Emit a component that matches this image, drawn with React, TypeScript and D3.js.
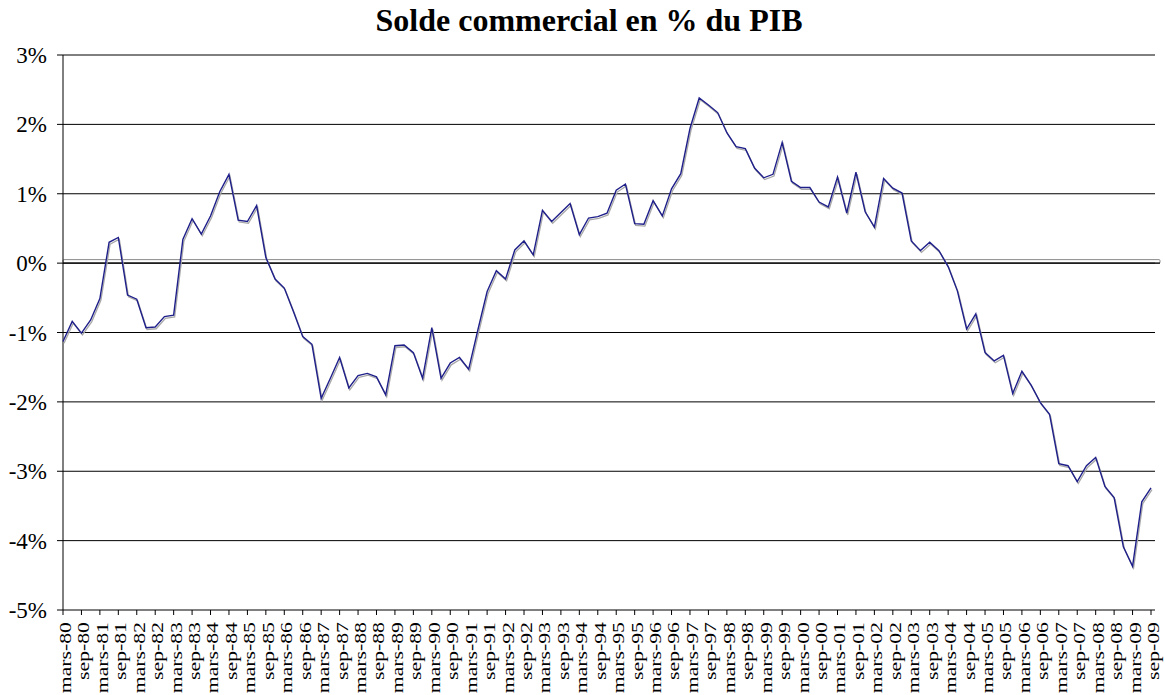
import React from "react";
import * as d3 from "d3";

const title = "Solde commercial en % du PIB";
const years = ["80","81","82","83","84","85","86","87","88","89","90","91","92","93","94","95","96","97","98","99","00","01","02","03","04","05","06","07","08","09"];
const tickLabels: string[] = years.flatMap((y) => ["mars-" + y, "sep-" + y]);
const yTicks = [3, 2, 1, 0, -1, -2, -3, -4, -5];
// quarterly values (% of GDP), Q1 1980 .. Q3 2009
const values = [
  -1.13, -0.84, -1.01, -0.82, -0.51, 0.30, 0.37, -0.46, -0.52, -0.93,
  -0.92, -0.77, -0.75, 0.34, 0.64, 0.42, 0.68, 1.03, 1.28, 0.62,
  0.60, 0.83, 0.08, -0.23, -0.36, -0.70, -1.06, -1.17, -1.95, -1.66,
  -1.36, -1.80, -1.62, -1.59, -1.64, -1.90, -1.19, -1.18, -1.29, -1.66,
  -0.93, -1.66, -1.44, -1.36, -1.53, -0.96, -0.41, -0.11, -0.23, 0.19,
  0.32, 0.12, 0.76, 0.60, 0.73, 0.86, 0.41, 0.65, 0.67, 0.72,
  1.05, 1.14, 0.57, 0.56, 0.90, 0.68, 1.07, 1.29, 1.94, 2.38,
  2.28, 2.17, 1.88, 1.68, 1.65, 1.37, 1.23, 1.28, 1.74, 1.18,
  1.09, 1.09, 0.88, 0.81, 1.24, 0.72, 1.31, 0.74, 0.52, 1.22,
  1.08, 1.01, 0.32, 0.18, 0.30, 0.18, -0.05, -0.40, -0.95, -0.73,
  -1.29, -1.41, -1.33, -1.88, -1.56, -1.76, -2.01, -2.18, -2.89, -2.92,
  -3.15, -2.92, -2.80, -3.22, -3.38, -4.09, -4.37, -3.44, -3.24,
];

const W = 1165;
const H = 695;
const left = 63;
const right = 1151;
const gridRight = 1155;
const top = 55;
const bottom = 610;

export default function App() {
  const x = d3.scaleLinear().domain([0, values.length - 1]).range([left, right]);
  const y = d3.scaleLinear().domain([-5, 3]).range([bottom, top]);
  const line = d3
    .line<number>()
    .x((_, i) => x(i))
    .y((d) => y(d));
  const path = line(values) || "";
  const serif = "'Liberation Serif', 'Times New Roman', 'DejaVu Serif', serif";
  const ts = { fontFamily: serif };

  return (
    <svg
      width={W}
      height={H}
      style={{ position: "absolute", left: 0, top: 0, background: "#fff", fontFamily: serif }}
    >
      <rect x={0} y={0} width={W} height={H} fill="#fff" />
      <text x={589} y={31} textAnchor="middle" fontSize={32} fontWeight="bold" fill="#000" style={ts}>
        {title}
      </text>
      {yTicks.map((t) => (
        <g key={t}>
          {t !== -5 && (
            <line x1={left} x2={gridRight} y1={y(t)} y2={y(t)} stroke="#000" strokeWidth={1} />
          )}
          <line x1={left - 6} x2={left} y1={y(t)} y2={y(t)} stroke="#000" strokeWidth={1} />
          <text x={47} y={y(t)} dy="0.35em" textAnchor="end" fontSize={23} fill="#000" style={ts}>
            {t + "%"}
          </text>
        </g>
      ))}
      {/* zero band outline */}
      <rect
        x={left}
        y={y(0) - 3.5}
        width={1160 - left}
        height={3.5}
        fill="none"
        stroke="#888"
        strokeWidth={1}
        rx={1}
      />
      <line x1={left} x2={1160} y1={y(0)} y2={y(0)} stroke="#000" strokeWidth={1.2} />
      {/* axes */}
      <line x1={left} x2={left} y1={top} y2={bottom} stroke="#000" strokeWidth={1} />
      <line x1={left} x2={gridRight} y1={bottom} y2={bottom} stroke="#000" strokeWidth={1} />
      {tickLabels.map((lab, k) => {
        const xp = x(k * 2);
        return (
          <g key={lab}>
            <line x1={xp} x2={xp} y1={bottom} y2={bottom + 5} stroke="#000" strokeWidth={1} />
            <text
              transform={`translate(${xp + 2.5},622) rotate(-90) scale(1.36,1)`}
              textAnchor="end"
              dominantBaseline="central"
              fontSize={16}
              fill="#000"
              style={ts}
            >
              {lab}
            </text>
          </g>
        );
      })}
      {/* series with shadow */}
      <path d={path} fill="none" stroke="#a8a8a8" strokeWidth={1.3} transform="translate(1,1.8)" />
      <path d={path} fill="none" stroke="#1f1f8a" strokeWidth={1.4} strokeLinejoin="miter" />
    </svg>
  );
}
